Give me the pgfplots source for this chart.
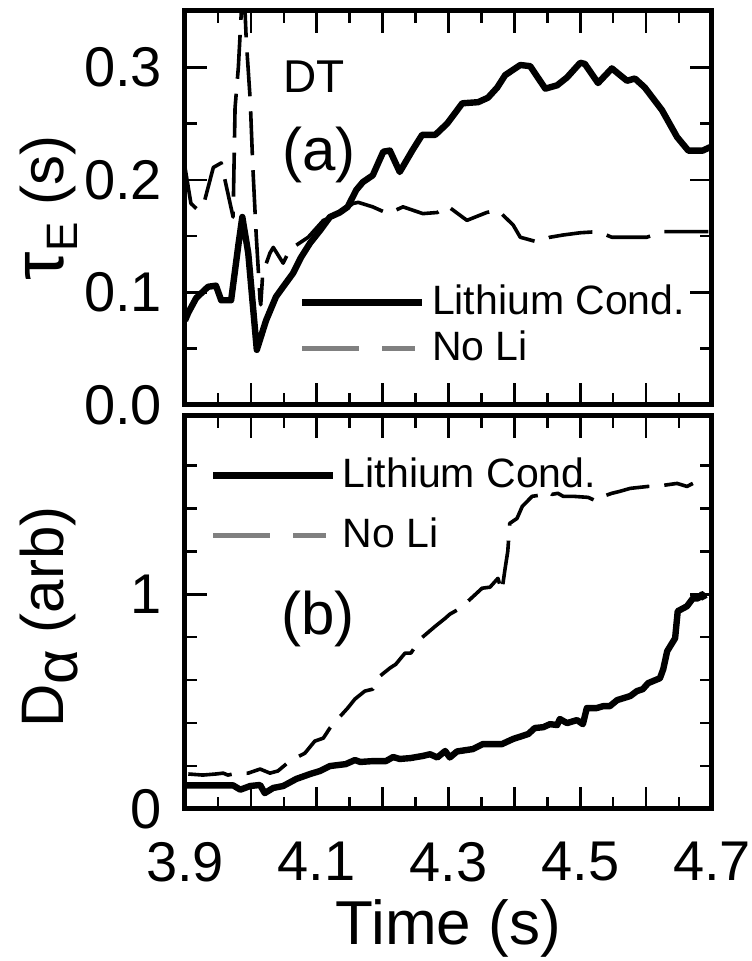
\documentclass[border=0pt]{standalone}
\usepackage{fontspec}
\setmainfont{Liberation Sans}
\usepackage{pgfplots}
\usepackage{pgfplotstable}
\pgfplotsset{compat=1.18}

\pgfplotstableread{
x y
3.900 0.075
3.905 0.082
3.917 0.095
3.935 0.105
3.947 0.106
3.955 0.093
3.970 0.093
3.981 0.142
3.987 0.167
3.996 0.135
4.009 0.049
4.023 0.075
4.038 0.096
4.049 0.105
4.064 0.117
4.076 0.131
4.090 0.144
4.105 0.155
4.120 0.167
4.135 0.171
4.147 0.176
4.160 0.191
4.170 0.198
4.185 0.204
4.201 0.225
4.211 0.226
4.226 0.207
4.245 0.226
4.260 0.240
4.280 0.240
4.298 0.250
4.321 0.268
4.345 0.269
4.360 0.273
4.374 0.282
4.386 0.293
4.409 0.302
4.424 0.301
4.447 0.281
4.465 0.284
4.480 0.291
4.500 0.304
4.507 0.303
4.527 0.286
4.548 0.299
4.571 0.288
4.583 0.290
4.598 0.282
4.624 0.262
4.647 0.238
4.664 0.226
4.686 0.226
4.697 0.229
}\tauLi

\pgfplotstableread{
x y
3.900 0.211
3.909 0.179
3.920 0.173
3.930 0.182
3.943 0.211
3.955 0.215
3.973 0.167
3.976 0.264
3.981 0.300
3.985 0.344
3.989 0.380
3.993 0.324
3.999 0.271
4.003 0.211
4.008 0.152
4.014 0.093
4.015 0.089
4.018 0.117
4.029 0.135
4.034 0.140
4.049 0.126
4.059 0.138
4.069 0.142
4.087 0.149
4.110 0.164
4.135 0.170
4.155 0.179
4.163 0.180
4.185 0.176
4.208 0.170
4.231 0.176
4.261 0.170
4.283 0.171
4.298 0.177
4.328 0.164
4.358 0.171
4.375 0.173
4.398 0.160
4.409 0.149
4.434 0.145
4.454 0.149
4.474 0.151
4.500 0.153
4.527 0.154
4.548 0.149
4.601 0.149
4.626 0.154
4.697 0.154
}\tauNo

\pgfplotstableread{
x y
3.902 0.110
3.927 0.110
3.973 0.110
3.984 0.090
3.999 0.107
4.014 0.112
4.021 0.074
4.034 0.098
4.049 0.107
4.069 0.140
4.090 0.163
4.105 0.177
4.120 0.200
4.144 0.209
4.158 0.228
4.166 0.219
4.185 0.223
4.205 0.223
4.216 0.242
4.226 0.233
4.242 0.237
4.261 0.247
4.272 0.255
4.283 0.240
4.295 0.270
4.302 0.240
4.313 0.268
4.337 0.279
4.352 0.302
4.381 0.302
4.398 0.326
4.421 0.349
4.431 0.377
4.444 0.381
4.454 0.395
4.465 0.391
4.469 0.419
4.480 0.400
4.495 0.414
4.504 0.395
4.510 0.470
4.525 0.470
4.535 0.479
4.545 0.479
4.556 0.507
4.576 0.526
4.586 0.549
4.595 0.558
4.603 0.586
4.621 0.609
4.626 0.651
4.632 0.735
4.644 0.795
4.648 0.921
4.662 0.944
4.671 0.981
4.679 0.981
4.685 1.000
4.689 0.977
}\DaLi

\pgfplotstableread{
x y
3.905 0.163
3.927 0.158
3.947 0.163
3.958 0.167
3.965 0.158
3.973 0.163
3.996 0.167
4.014 0.186
4.029 0.167
4.041 0.177
4.059 0.223
4.082 0.260
4.097 0.316
4.110 0.330
4.120 0.377
4.129 0.409
4.147 0.470
4.158 0.512
4.173 0.549
4.185 0.558
4.196 0.619
4.211 0.656
4.220 0.674
4.234 0.726
4.243 0.726
4.257 0.791
4.280 0.851
4.295 0.888
4.302 0.907
4.318 0.935
4.333 0.977
4.351 1.028
4.363 1.033
4.375 1.074
4.381 1.014
4.386 1.121
4.390 1.200
4.393 1.330
4.404 1.353
4.412 1.409
4.427 1.456
4.436 1.460
4.450 1.479
4.457 1.465
4.466 1.470
4.474 1.456
4.489 1.456
4.512 1.451
4.525 1.433
4.535 1.456
4.548 1.470
4.560 1.479
4.576 1.493
4.603 1.502
4.626 1.507
4.647 1.516
4.662 1.502
4.671 1.516
}\DaNo

\pgfplotsset{
  myaxis/.style={
    scale only axis, width=263.5pt,
    xmin=3.9, xmax=4.7,
    xtick={3.9,4,4.1,4.2,4.3,4.4,4.5,4.6,4.7},
    minor xtick={3.95,4.05,4.15,4.25,4.35,4.45,4.55,4.65},
    tick align=inside, tick pos=both, ticklabel pos=left,
    major tick length=11pt, minor tick length=6pt,
    every tick/.style={black, line width=1.3pt},
    axis line style={line width=2.5pt},
    tick label style={font=\fontsize{28}{28}\selectfont},
    xticklabel style={yshift=-13pt},
    yticklabel style={xshift=-8pt},
    /pgf/number format/assume math mode=true,
    legend cell align=left,
    legend image code/.code={\draw[##1] (0pt,0pt) -- (60pt,0pt);},
  },
  sol/.style={black, line width=3.2pt, line join=round},
  das/.style={black, line width=1.8pt, dash pattern=on 22pt off 7.5pt, line join=round},
}

\begin{document}
\begin{tikzpicture}
\path[use as bounding box] (-92.5pt,-76pt) rectangle (283pt,404.5pt);

% ---------- top panel ----------
\begin{axis}[myaxis,
  at={(0pt,202pt)}, anchor=south west,
  height=197pt,
  ymin=0, ymax=0.35,
  ytick={0,0.1,0.2,0.3},
  minor ytick={0.05,0.15,0.25},
  yticklabel style={/pgf/number format/.cd, fixed, fixed zerofill, precision=1},
  xticklabels={},
  ylabel={{\fontsize{36}{36}\selectfont τ}\raisebox{-7pt}{\fontsize{22}{22}\selectfont E} (s)},
  ylabel style={at={(axis description cs:-0.258,0.5)}, anchor=center, font=\fontsize{30}{30}\selectfont},
  legend style={draw=none, fill=none, inner sep=0pt,
    at={(axis description cs:0.2145,0.293)}, anchor=north west,
    font=\fontsize{20.5}{20.5}\selectfont, row sep=10.5pt, column sep=3pt,
    nodes={inner sep=0pt, text height=12.5pt, text depth=0pt}},
]
\addplot[das, forget plot] table[x=x, y=y] {\tauNo};
\addplot[sol, forget plot] table[x=x, y=y] {\tauLi};
\addlegendimage{black, line width=3.8pt}
\addlegendentry{Lithium Cond.}
\addlegendimage{legend image code/.code={\draw[gray, line width=2.5pt, dash pattern=on 28.5pt off 11.5pt] (0pt,0pt) -- (56.5pt,0pt);}}
\addlegendentry{No Li}
\node[anchor=base west, font=\fontsize{23}{23}\selectfont] at (axis description cs:0.174,0.792) {DT};
\node[anchor=center, font=\fontsize{30}{30}\selectfont] at (axis description cs:0.254,0.635) {(a)};
\end{axis}

% ---------- bottom panel ----------
\begin{axis}[myaxis,
  at={(0pt,0pt)}, anchor=south west,
  height=196.5pt,
  ymin=0, ymax=1.83,
  ytick={0,1},
  minor ytick={0.2,0.4,0.6,0.8,1.2,1.4,1.6},
  xticklabels={3.9,,4.1,,4.3,,4.5,,4.7},
  xlabel={Time (s)},
  xlabel style={at={(axis description cs:0.5,-0.346)}, anchor=base, font=\fontsize{31}{31}\selectfont},
  ylabel={D\raisebox{-7pt}{\fontsize{30}{30}\selectfont α} (arb)},
  ylabel style={at={(axis description cs:-0.258,0.488)}, anchor=center, font=\fontsize{30}{30}\selectfont},
  legend style={draw=none, fill=none, inner sep=0pt,
    at={(axis description cs:0.0455,0.8817)}, anchor=north west,
    font=\fontsize{20.5}{20.5}\selectfont, row sep=17.5pt, column sep=3pt,
    nodes={inner sep=0pt, text height=12.5pt, text depth=0pt}},
]
\addplot[das, forget plot] table[x=x, y=y] {\DaNo};
\addplot[sol, forget plot] table[x=x, y=y] {\DaLi};
\addlegendimage{black, line width=3.8pt}
\addlegendentry{Lithium Cond.}
\addlegendimage{legend image code/.code={\draw[gray, line width=2.5pt, dash pattern=on 28.5pt off 11.5pt] (0pt,0pt) -- (56.5pt,0pt);}}
\addlegendentry{No Li}
\node[anchor=center, font=\fontsize{30}{30}\selectfont] at (axis description cs:0.252,0.483) {(b)};
\end{axis}
\end{tikzpicture}
\end{document}
